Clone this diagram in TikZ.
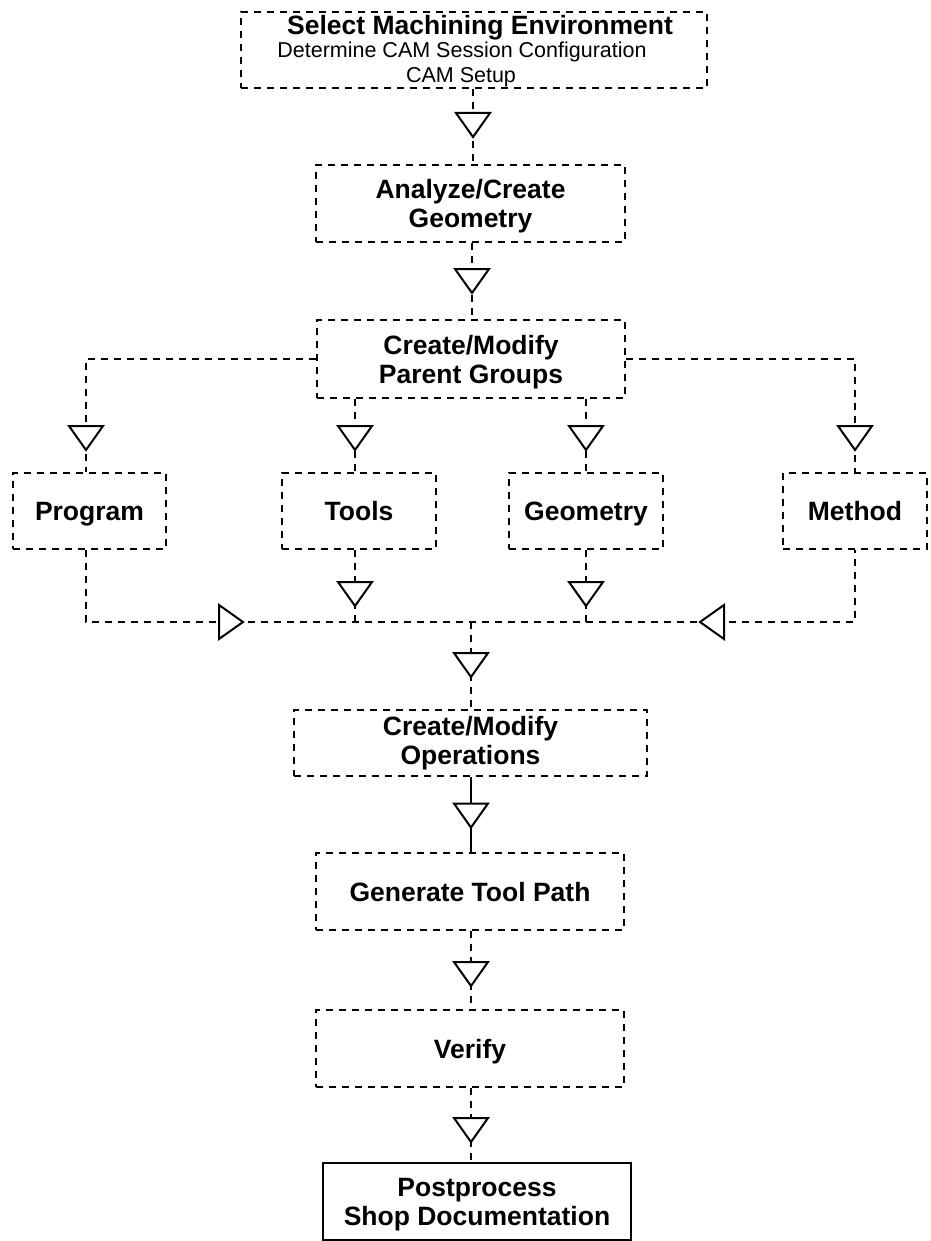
\documentclass[tikz,border=0pt]{standalone}
\usepackage{fontspec}
\setmainfont{Liberation Sans}
\begin{document}
\begin{tikzpicture}[x=1pt,y=-1pt,
  dbox/.style={draw, line width=2pt, dash pattern=on 7pt off 6pt, inner sep=0pt, align=center,
    font=\fontsize{26.5}{29}\selectfont\bfseries},
  sbox/.style={draw, line width=2pt, inner sep=0pt, align=center,
    font=\fontsize{26.5}{29}\selectfont\bfseries},
  oneline/.style={text height=19pt, text depth=0pt},
  txt/.style={inner sep=0pt, anchor=base},
  dconn/.style={line width=2pt, dash pattern=on 7pt off 6pt},
  sconn/.style={line width=2pt},
  tri/.pic={\draw[line width=2pt, fill=white, line join=miter] (-17,-12) -- (17,-12) -- (0,12) -- cycle;}
]
\useasboundingbox (0,0) rectangle (930,1241);
\fill[white] (0,0) rectangle (930,1241);

% boxes
\node[dbox, minimum width=466pt, minimum height=76pt] (sel) at (474,50) {};
\node[txt, font=\fontsize{26.5}{29}\selectfont\bfseries] (selA) at (480,35) {Select Machining Environment};
\node[txt, font=\fontsize{21.5}{24}\selectfont] (selB) at (462,58) {Determine CAM Session Configuration};
\node[txt, font=\fontsize{21.5}{24}\selectfont] (selC) at (461,83) {CAM Setup};

\node[dbox, text depth=-4pt, minimum width=309pt, minimum height=77pt] (ana) at (470.5,203.5) {Analyze/Create\\Geometry};
\node[dbox, text depth=-4pt, minimum width=308pt, minimum height=78pt] (pg) at (471,359) {Create/Modify\\Parent Groups};

\node[dbox, oneline, minimum width=153pt, minimum height=76pt] (prog) at (89.5,511) {Program};
\node[dbox, oneline, minimum width=154pt, minimum height=76pt] (tools) at (359,511) {Tools};
\node[dbox, oneline, minimum width=154pt, minimum height=76pt] (geom) at (586,511) {Geometry};
\node[dbox, oneline, minimum width=144pt, minimum height=76pt] (meth) at (855,511) {Method};

\node[dbox, minimum width=353pt, minimum height=66pt] (ops) at (470.5,743) {Create/Modify\\Operations};
\node[dbox, oneline, minimum width=308pt, minimum height=77pt] (gen) at (470,891.5) {Generate Tool Path};
\node[dbox, oneline, minimum width=308pt, minimum height=77pt] (ver) at (470,1048.5) {Verify};
\node[sbox, text depth=0pt, minimum width=308pt, minimum height=77pt] (post) at (477,1201.5) {Postprocess\\Shop Documentation};

% triangle positions
\coordinate (t1) at (473,125);
\coordinate (t2) at (472,281);
\coordinate (ta) at (86,438);
\coordinate (tb) at (355,438);
\coordinate (tc) at (586,438);
\coordinate (td) at (855,438);
\coordinate (tb2) at (355,594);
\coordinate (tc2) at (586,594);
\coordinate (m) at (471,622);
\coordinate (tr) at (231,622);
\coordinate (tl) at (712,622);
\coordinate (t5) at (471,665);
\coordinate (t6) at (471,815.5);
\coordinate (t7) at (471,974);
\coordinate (t8) at (471,1130);

% connectors
\draw[dconn] (t1 |- sel.south) -- (t1 |- ana.north);
\draw[dconn] (t2 |- ana.south) -- (t2 |- pg.north);
\draw[dconn] (pg.west) -| (ta) -- (ta |- prog.north);
\draw[dconn] (pg.east) -| (td) -- (td |- meth.north);
\draw[dconn] (tb |- pg.south) -- (tb |- tools.north);
\draw[dconn] (tc |- pg.south) -- (tc |- geom.north);
\draw[dconn] (ta |- prog.south) -- (ta |- m) -- (td |- m) -- (td |- meth.south);
\draw[dconn] (tb |- tools.south) -- (tb |- m);
\draw[dconn] (tc |- geom.south) -- (tc |- m);
\draw[dconn] (m) -- (m |- ops.north);
\draw[sconn] (t6 |- ops.south) -- (t6 |- gen.north);
\draw[dconn] (t7 |- gen.south) -- (t7 |- ver.north);
\draw[dconn] (t8 |- ver.south) -- (t8 |- post.north);

% triangles
\pic at (t1) {tri};
\pic at (t2) {tri};
\pic at (ta) {tri};
\pic at (tb) {tri};
\pic at (tc) {tri};
\pic at (td) {tri};
\pic at (tb2) {tri};
\pic at (tc2) {tri};
\pic[rotate=90] at (tr) {tri};
\pic[rotate=-90] at (tl) {tri};
\pic at (t5) {tri};
\pic at (t6) {tri};
\pic at (t7) {tri};
\pic at (t8) {tri};
\end{tikzpicture}
\end{document}
